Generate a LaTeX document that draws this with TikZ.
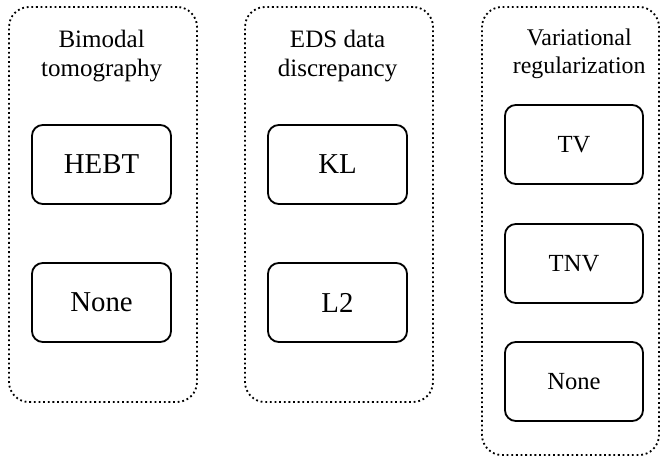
\documentclass[tikz,border=0pt]{standalone}
\usepackage{fontspec}
\setmainfont{Liberation Serif}
\usepackage{tikz}
\tikzset{
    every node/.style={inner sep=0mm, align=center}
}
\tikzset{group/.style={draw, line width=1.3pt, dash pattern=on 1.3pt off 2pt, rounded corners=0.5cm}}
\tikzset{choice/.style={draw, line width=1.3pt, rounded corners=0.27cm, minimum width=3.475cm, minimum height=1.975cm, font=\fontsize{20.5}{24}\selectfont}}
\tikzset{smallchoice/.style={choice, minimum width=3.45cm, font=\fontsize{17.5}{21}\selectfont}}
\tikzset{heading/.style={font=\fontsize{17.8}{20}\selectfont}}

\begin{document}
\begin{tikzpicture}
        \useasboundingbox (0cm, 0cm) rectangle (16.500000cm, -11.500000cm);
        \node (g0) [group, minimum width=4.700000cm, minimum height=9.875000cm] at (2.575000cm, -5.112500cm) {};
        \node (g1) [group, minimum width=4.700000cm, minimum height=9.875000cm] at (8.475000cm, -5.112500cm) {};
        \node (g2) [group, minimum width=4.425000cm, minimum height=11.200000cm] at (14.262500cm, -5.775000cm) {};
        \node (t0) [heading] at (2.540000cm, -1.400000cm) {Bimodal\\tomography};
        \node (t1) [heading] at (8.440000cm, -1.400000cm) {EDS data\\discrepancy};
        \node (t2) [heading, font=\fontsize{17}{20}\selectfont] at (14.480000cm, -1.350000cm) {Variational\\regularization};
        \node (b0) [choice] at (2.537500cm, -4.112500cm) {HEBT};
        \node (b1) [choice] at (2.537500cm, -7.562500cm) {None};
        \node (b2) [choice] at (8.437500cm, -4.112500cm) {KL};
        \node (b3) [choice] at (8.437500cm, -7.562500cm) {L2};
        \node (b4) [smallchoice] at (14.350000cm, -3.612500cm) {TV};
        \node (b5) [smallchoice] at (14.350000cm, -6.587500cm) {TNV};
        \node (b6) [smallchoice] at (14.350000cm, -9.537500cm) {None};
\end{tikzpicture}
\end{document}
